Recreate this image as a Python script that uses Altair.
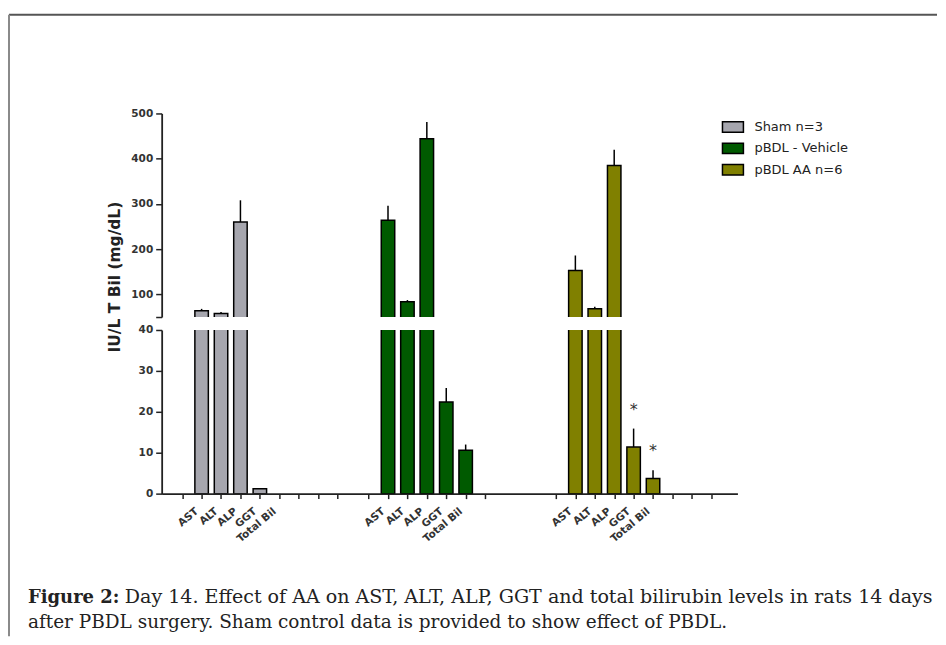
import altair as alt
import pandas as pd

# ---------------- data ----------------
groups = ["Sham n=3", "pBDL - Vehicle", "pBDL AA n=6"]
params = ["AST", "ALT", "ALP", "GGT", "Total Bil"]
sham_mean = [64, 58, 260, 1.2, 0]
sham_err = [4, 3, 48, 0, 0]
veh_mean = [264, 84, 444, 22.4, 10.6]
veh_err = [32, 3.5, 37, 3.4, 1.4]
aa_mean = [153, 68, 385, 11.4, 3.7]
aa_err = [33, 4.5, 35, 4.5, 2.0]
sig_group = ["pBDL AA n=6", "pBDL AA n=6"]
sig_param = ["GGT", "Total Bil"]
colors = ["#a6a6ae", "#005a00", "#808000"]

y_title = "IU/L T Bil (mg/dL)"
caption_bold = "Figure 2:"
caption_1 = "Day 14. Effect of AA on AST, ALT, ALP, GGT and total bilirubin levels in rats 14 days"
caption_2 = "after PBDL surgery. Sham control data is provided to show effect of PBDL."

# ---------------- layout of the category slots ----------------
group_start = [0.8, 10.4, 20.05]   # first tick of each group, in slot units
group_ticks = [9, 7, 9]
X_MAX = 29.14

means = [sham_mean, veh_mean, aa_mean]
errs = [sham_err, veh_err, aa_err]
rows = []
for gi, g in enumerate(groups):
    for pi, p in enumerate(params):
        m = means[gi][pi]
        e = errs[gi][pi]
        rows.append({"group": g, "param": p, "pos": group_start[gi] + 1 + pi,
                     "value": m, "top": m + e, "err": e})
df = pd.DataFrame(rows)
sig = df[[any((r.group == sg and r.param == sp) for sg, sp in zip(sig_group, sig_param))
          for r in df.itertuples()]].copy()

tick_vals = []
for gi in range(3):
    for k in range(group_ticks[gi]):
        tick_vals.append(round(group_start[gi] + k, 3))

expr = "''"
for gi in range(3):
    for pi, p in enumerate(params):
        v = round(group_start[gi] + 1 + pi, 3)
        expr = f"abs(datum.value - {v}) < 0.01 ? '{p}' : ({expr})"

x_scale = alt.Scale(domain=[0, X_MAX], nice=False, zero=False)
color = alt.Color(
    "group:N",
    scale=alt.Scale(domain=groups, range=colors),
    legend=alt.Legend(
        orient="none", legendX=561, legendY=2, title=None,
        symbolType="M-1,-0.5H1V0.5H-1Z", symbolSize=441,
        symbolStrokeColor="black", symbolStrokeWidth=1.5, symbolOpacity=1,
        labelFont="DejaVu Sans", labelFontSize=13, labelColor="#222",
        rowPadding=1.5, labelOffset=10,
    ),
)

W = 577
H_UP = 204
H_LO = 164

axis_common = dict(
    title=None, grid=False, labelFont="DejaVu Sans", labelFontWeight="bold",
    labelFontSize=10.5, labelColor="#333", tickSize=6, tickWidth=1.5,
    tickColor="#222", domainColor="#222", domainWidth=1.8, labelPadding=3,
)

# ---------------- upper panel (50 - 500) ----------------
up_base = alt.Chart(df)
up_bars = up_base.transform_filter("datum.value > 50").mark_bar(
    size=13.5, stroke="black", strokeWidth=1.5, clip=True, opacity=1
).encode(
    x=alt.X("pos:Q", scale=x_scale, axis=None),
    y=alt.Y("value:Q", scale=alt.Scale(domain=[50, 500], nice=False, zero=False),
            axis=alt.Axis(values=[50, 100, 200, 300, 400, 500],
                          labelExpr="datum.value == 50 ? '' : datum.label",
                          **axis_common)),
    y2=alt.datum(40),
    color=color,
)
up_err = up_base.transform_filter("datum.value > 50 && datum.err > 0").mark_rule(
    color="black", strokeWidth=1.5
).encode(x=alt.X("pos:Q", scale=x_scale), y="value:Q", y2="top:Q")

ytitle = alt.Chart(pd.DataFrame({"t": [y_title]})).mark_text(
    angle=270, align="center", baseline="middle", font="DejaVu Sans",
    fontWeight="bold", fontSize=15.5, color="#222"
).encode(text="t:N", x=alt.value(-47), y=alt.value(164))

border_top = alt.Chart(pd.DataFrame({"a": [0]})).mark_rule(
    color="#555", strokeWidth=2
).encode(x=alt.value(-153), x2=alt.value(777), y=alt.value(-99), y2=alt.value(-99))
border_left = alt.Chart(pd.DataFrame({"a": [0]})).mark_rule(
    color="#8a8a8a", strokeWidth=2
).encode(x=alt.value(-153), x2=alt.value(-153), y=alt.value(-99), y2=alt.value(524))

upper = alt.layer(border_top, border_left, up_bars, up_err, ytitle).properties(
    width=W, height=H_UP
)

# ---------------- lower panel (0 - 40) ----------------
lo_base = alt.Chart(df)
lo_bars = lo_base.transform_filter("datum.value > 0").mark_bar(
    size=13.5, stroke="black", strokeWidth=1.5, clip=True, opacity=1
).encode(
    x=alt.X("pos:Q", scale=x_scale,
            axis=alt.Axis(values=tick_vals, tickCount=60, labelExpr=expr, title=None,
                          grid=False, labelAngle=-40, labelAlign="right",
                          labelBaseline="middle", labelFont="DejaVu Sans",
                          labelFontWeight="bold", labelFontSize=10.5, labelColor="#333",
                          labelOverlap=False, tickSize=5, tickWidth=1.5,
                          tickColor="#222", domainColor="#222", domainWidth=1.8,
                          labelPadding=11, labelOffset=-5)),
    y=alt.Y("value:Q", scale=alt.Scale(domain=[0, 40], nice=False),
            axis=alt.Axis(values=[0, 10, 20, 30, 40], **axis_common)),
    color=color,
)
lo_err = lo_base.transform_filter("datum.value < 40 && datum.err > 0").mark_rule(
    color="black", strokeWidth=1.5
).encode(x=alt.X("pos:Q", scale=x_scale), y="value:Q", y2="top:Q")

stars = alt.Chart(sig).mark_text(
    text="*", fontSize=16, font="DejaVu Sans", color="#333", baseline="middle", dy=-19
).encode(x=alt.X("pos:Q", scale=x_scale), y=alt.Y("top:Q"))

CAP_FONT = "DejaVu Serif"
cap_b = alt.Chart(pd.DataFrame({"t": [caption_bold]})).mark_text(
    align="left", baseline="alphabetic", font=CAP_FONT, fontWeight="bold",
    fontSize=18, color="#222"
).encode(text="t:N", x=alt.value(-134), y=alt.value(274))
cap_1 = alt.Chart(pd.DataFrame({"t": [caption_1]})).mark_text(
    align="left", baseline="alphabetic", font=CAP_FONT,
    fontSize=19.1, color="#222"
).encode(text="t:N", x=alt.value(-37), y=alt.value(274))
cap_2 = alt.Chart(pd.DataFrame({"t": [caption_2]})).mark_text(
    align="left", baseline="alphabetic", font=CAP_FONT,
    fontSize=18.5, color="#222"
).encode(text="t:N", x=alt.value(-134), y=alt.value(299))

lower = alt.layer(lo_bars, lo_err, stars, cap_b, cap_1, cap_2).properties(
    width=W, height=H_LO
)

chart = alt.vconcat(upper, lower, spacing=13, bounds="flush").resolve_scale(
    x="shared", color="shared"
).properties(
    padding={"left": 0, "top": 5, "right": 0, "bottom": 0}
).configure_view(stroke=None)

chart.save("out.html", embed_options={"renderer": "svg", "actions": False})
